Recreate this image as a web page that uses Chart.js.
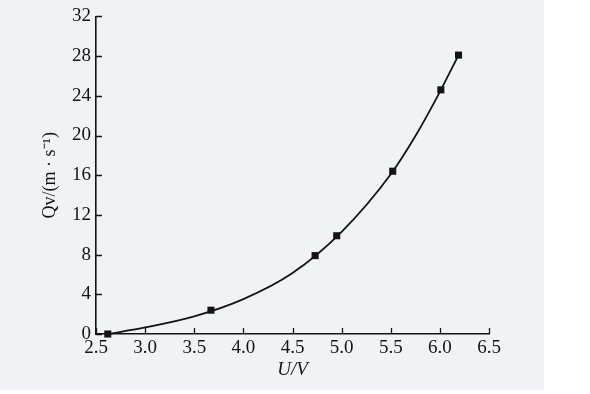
<!DOCTYPE html>
<html>
<head>
<meta charset="utf-8">
<script src="https://cdn.jsdelivr.net/npm/chart.js@4/dist/chart.umd.min.js"></script>
<style>
html,body{margin:0;padding:0;background:#ffffff;}
#wrap{position:absolute;left:0;top:0;width:590px;height:394px;}
#paper{position:absolute;left:0;top:0;width:544px;height:390px;background:#f1f2f6;}
canvas{position:absolute;left:0;top:0;}
</style>
</head>
<body>
<div id="wrap">
<div id="paper"></div>
<canvas id="c" width="590" height="394"></canvas>
</div>
<script>
// measured points (square markers)
const voltage = [2.62, 3.67, 4.73, 4.95, 5.52, 6.01, 6.19];
const flow = [0, 2.4, 7.9, 9.9, 16.4, 24.6, 28.1];
// smooth fitted curve
const curveVoltage = [2.63, 3.0, 3.5, 4.0, 4.5, 5.0, 5.5, 5.76, 6.0, 6.19];
const curveFlow = [0, 0.66, 1.78, 3.52, 6.15, 10.3, 16.1, 20.1, 24.4, 28.1];
const xTicks = [2.5, 3.0, 3.5, 4.0, 4.5, 5.0, 5.5, 6.0, 6.5];
const yTicks = [0, 4, 8, 12, 16, 20, 24, 28, 32];
const xTitle = 'U/V';
const yTitle = 'Qv/(m · s⁻¹)';

const FONT = '"Liberation Serif"';
const INK = '#141414';

const innerTicks = {
  id: 'innerTicks',
  afterDraw(chart) {
    const ctx = chart.ctx;
    const xs = chart.scales.x, ys = chart.scales.y;
    const a = chart.chartArea;
    ctx.save();
    ctx.strokeStyle = INK;
    ctx.lineWidth = 1.3;
    ctx.beginPath();
    xTicks.forEach(v => {
      const px = Math.round(xs.getPixelForValue(v)) + 0.5;
      ctx.moveTo(px, a.bottom);
      ctx.lineTo(px, a.bottom - 6);
    });
    yTicks.forEach(v => {
      const py = Math.round(ys.getPixelForValue(v)) + 0.5;
      ctx.moveTo(a.left, py);
      ctx.lineTo(a.left + 6, py);
    });
    ctx.stroke();
    ctx.restore();
  }
};

new Chart(document.getElementById('c'), {
  type: 'scatter',
  data: {
    datasets: [{
      data: curveVoltage.map((v, i) => ({x: v, y: curveFlow[i]})),
      showLine: true,
      cubicInterpolationMode: 'monotone',
      borderColor: INK,
      borderWidth: 1.8,
      pointRadius: 0,
      clip: false
    }, {
      data: voltage.map((v, i) => ({x: v, y: flow[i]})),
      showLine: false,
      pointStyle: 'rect',
      pointRadius: 5,
      pointBorderWidth: 0,
      pointBackgroundColor: INK,
      backgroundColor: INK,
      clip: false
    }]
  },
  options: {
    responsive: false,
    animation: false,
    devicePixelRatio: 1,
    layout: {padding: {left: 0, top: 10, right: 101, bottom: 0}},
    plugins: {legend: {display: false}, tooltip: {enabled: false}},
    scales: {
      x: {
        type: 'linear', min: 2.5, max: 6.5,
        afterBuildTicks(s) { s.ticks = xTicks.map(v => ({value: v})); },
        afterFit(s) { s.height = 60; },
        border: {display: true, color: INK, width: 1.6},
        grid: {display: false, drawTicks: false},
        ticks: {
          color: INK, font: {family: FONT, size: 19}, padding: 3,
          maxRotation: 0, autoSkip: false,
          callback: v => Number(v).toFixed(1)
        },
        title: {display: true, text: xTitle, color: INK,
          font: {family: FONT, size: 19, style: 'italic'}, padding: {top: 0, bottom: 13}}
      },
      y: {
        type: 'linear', min: 0, max: 32,
        afterBuildTicks(s) { s.ticks = yTicks.map(v => ({value: v})); },
        afterFit(s) { s.width = 96; },
        border: {display: true, color: INK, width: 1.6},
        grid: {display: false, drawTicks: false},
        ticks: {
          color: INK, font: {family: FONT, size: 19}, padding: 5, autoSkip: false
        },
        title: {display: true, text: yTitle, color: INK,
          font: {family: FONT, size: 18}, padding: {top: 39, bottom: 0}}
      }
    }
  },
  plugins: [innerTicks]
});
</script>
</body>
</html>
